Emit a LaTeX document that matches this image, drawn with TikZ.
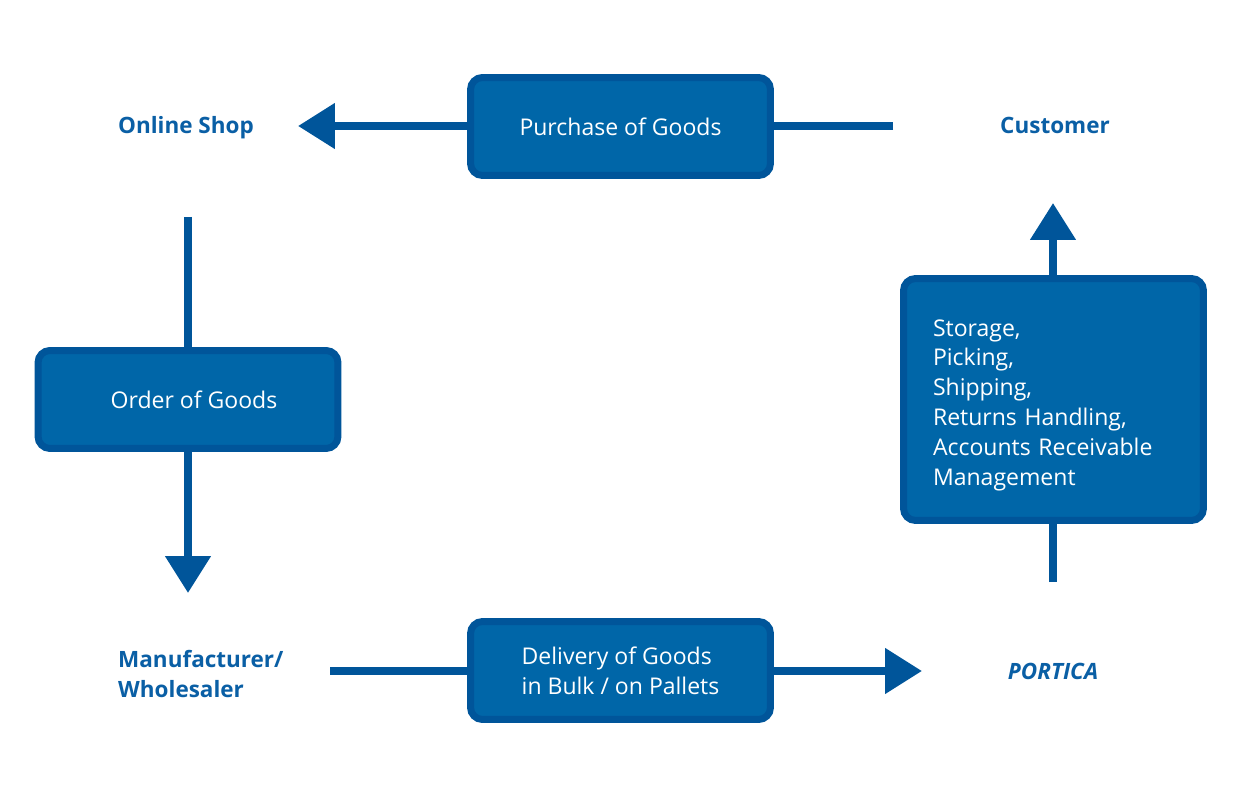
\documentclass[tikz,border=0pt]{standalone}
\usepackage{fontspec}
\setmainfont{Open Sans}
\usetikzlibrary{arrows.meta}
\definecolor{boxfill}{HTML}{0066A8}
\definecolor{boxline}{HTML}{00559A}
\definecolor{labelblue}{HTML}{0A5FA5}
\tikzset{
  stepbox/.style={draw=boxline, fill=boxfill, line width=0.14cm, rounded corners=0.24cm,
    minimum width=6cm, minimum height=1.96cm, text=white, font=\fontsize{13.1}{17}\selectfont},
  place/.style={text=labelblue, font=\fontsize{12.8}{17}\selectfont\bfseries},
  flow/.style={draw=boxline, line width=0.16cm, -{Triangle[length=0.74cm,width=0.88cm]}},
}
\begin{document}
\begin{tikzpicture}[x=0.02cm, y=-0.02cm]
    \useasboundingbox (0,0) rectangle (1241,800);

    % places
    \node[place] (shop) at (186,128) {Online Shop};
    \node[place] (cust) at (1055,125) {Customer};
    \node[place, align=left, anchor=west] (manu) at (112,674) {Manufacturer/\\Wholesaler};
    \node[place, font=\fontsize{12.8}{17}\selectfont\bfseries\itshape] (portica) at (1053,671) {PORTICA};

    % arrow ends
    \coordinate (c1) at (893,126);
    \coordinate (s1) at (298,126);
    \coordinate (s2) at (188,217);
    \coordinate (m1) at (188,593);
    \coordinate (m2) at (330,671);
    \coordinate (p1) at (922,671);
    \coordinate (p2) at (1053,582);
    \coordinate (c2) at (1053,203);

    \draw[flow] (c1) -- (s1);
    \draw[flow] (s2) -- (m1);
    \draw[flow] (m2) -- (p1);
    \draw[flow] (p2) -- (c2);

    % steps
    \node[stepbox] (purchase) at (620.5,126.5) {Purchase of Goods};
    \node[stepbox] (order) at (188,399.5) {\hspace*{0.24cm}Order of Goods};
    \node[stepbox, align=left] (delivery) at (620.5,670.5) {Delivery of Goods\\in Bulk / on Pallets};
    \node[stepbox, minimum height=4.84cm, align=left, text width=4.82cm, inner xsep=0.59cm] (service) at (1053.5,399.5)
      {\rule{0pt}{16pt}Storage,\\Picking,\\Shipping,\\Returns Handling,\\Accounts Receivable\\Management};

\end{tikzpicture}
\end{document}
